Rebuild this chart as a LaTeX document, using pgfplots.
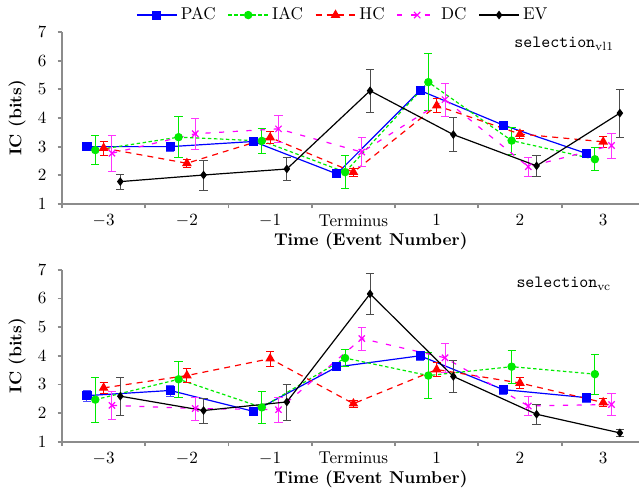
\documentclass[border=0pt]{standalone}
\usepackage{pgfplots}
\pgfplotsset{compat=1.18}
\definecolor{cpac}{RGB}{0,0,255}
\definecolor{ciac}{RGB}{0,235,0}
\definecolor{chc}{RGB}{255,0,0}
\definecolor{cdc}{RGB}{255,0,255}
\definecolor{axgray}{RGB}{140,140,140}
\pgfplotsset{
  myaxis/.style={
    scale only axis, width=337.5pt, height=100.6pt,
    xmin=-3.5, xmax=3.43, ymin=1, ymax=7,
    axis x line=bottom, axis y line=left,
    axis line style={-, axgray, line width=1.1pt},
    every tick/.style={axgray, line width=1.1pt},
    tick align=outside,
    xtick={-3,-2,-1,0,1,2,3},
    xticklabels={$-3$,$-2$,$-1$,Terminus,$1$,$2$,$3$},
    minor xtick={-3.5,-2.5,-1.5,-0.5,0.5,1.5,2.5},
    major x tick style={draw=none},
    major tick length=2.6pt, minor tick length=2.6pt,
    ytick={1,2,3,4,5,6,7},
    yticklabel style={xshift=-3pt},
    xlabel={\textbf{Time (Event Number)}},
    ylabel={\textbf{IC (bits)}},
    xlabel style={at={(axis description cs:0.535,0)}, anchor=north, yshift=-13.5pt},
    ylabel style={at={(axis description cs:0,0.5)}, anchor=center, yshift=26.3pt},
    clip=false,
  },
  pac/.style={cpac, line width=0.7pt, mark=square*, mark size=2.3pt, mark options={solid},
    error bars/.cd, y dir=both, y explicit, error bar style={cpac!70, line width=0.6pt}, error mark options={rotate=90, mark size=2.4pt, cpac!70}},
  iac/.style={ciac, line width=0.7pt, dash pattern=on 2pt off 1.5pt, mark=*, mark size=2.1pt, mark options={solid},
    error bars/.cd, y dir=both, y explicit, error bar style={ciac, line width=0.6pt, solid}, error mark options={rotate=90, mark size=2.4pt, ciac}},
  hc/.style={chc, line width=0.7pt, dash pattern=on 3.5pt off 3pt, mark=triangle*, mark size=2.6pt, mark options={solid},
    error bars/.cd, y dir=both, y explicit, error bar style={chc, line width=0.6pt, solid}, error mark options={rotate=90, mark size=2.4pt, chc}},
  dc/.style={cdc, line width=0.7pt, dash pattern=on 3pt off 5pt, mark=x, mark size=2.6pt, mark options={solid},
    error bars/.cd, y dir=both, y explicit, error bar style={cdc!80, line width=0.6pt, solid}, error mark options={rotate=90, mark size=2.4pt, cdc!80}},
  ev/.style={black, line width=0.7pt, mark=diamond*, mark size=2pt, mark options={solid},
    error bars/.cd, y dir=both, y explicit, error bar style={black!70, line width=0.6pt}, error mark options={rotate=90, mark size=2.4pt, black!70}},
}
\begin{document}
\begin{tikzpicture}
\begin{axis}[myaxis, at={(0,0)}, anchor=south west,
  legend columns=-1,
  legend style={draw=none, fill=none, at={(axis description cs:0.488,1)}, anchor=center, yshift=9.9pt,
    /tikz/every even column/.append style={column sep=5pt}, inner sep=1pt},
  legend image code/.code={\draw[mark repeat=2,mark phase=2] plot coordinates {(0cm,0cm) (0.41cm,0cm) (0.82cm,0cm)};},
]
\addplot[pac] table[x=x,y=y,y error=e,row sep=\\] {x y e\\ -3.2 3.00 0.12\\ -2.2 3.00 0.15\\ -1.2 3.18 0.15\\ -0.2 2.05 0.10\\ 0.8 4.96 0.15\\ 1.8 3.75 0.12\\ 2.8 2.76 0.10\\};
\addlegendentry{PAC}
\addplot[iac] table[x=x,y=y,y error=e,row sep=\\] {x y e\\ -3.1 2.88 0.50\\ -2.1 3.33 0.72\\ -1.1 3.20 0.45\\ -0.1 2.11 0.57\\ 0.9 5.25 1.00\\ 1.9 3.21 0.48\\ 2.9 2.56 0.40\\};
\addlegendentry{IAC}
\addplot[hc] table[x=x,y=y,y error=e,row sep=\\] {x y e\\ -3 2.95 0.24\\ -2 2.42 0.13\\ -1 3.32 0.22\\ 0 2.11 0.15\\ 1 4.43 0.24\\ 2 3.44 0.14\\ 3 3.17 0.20\\};
\addlegendentry{HC}
\addplot[dc] table[x=x,y=y,y error=e,row sep=\\] {x y e\\ -2.9 2.77 0.62\\ -1.9 3.45 0.55\\ -0.9 3.62 0.48\\ 0.1 2.81 0.50\\ 1.1 4.64 0.57\\ 2.1 2.30 0.33\\ 3.1 3.04 0.44\\};
\addlegendentry{DC}
\addplot[ev] table[x=x,y=y,y error=e,row sep=\\] {x y e\\ -2.8 1.78 0.27\\ -1.8 2.01 0.52\\ -0.8 2.22 0.40\\ 0.2 4.95 0.75\\ 1.2 3.42 0.60\\ 2.2 2.33 0.35\\ 3.2 4.17 0.83\\};
\addlegendentry{EV}
\node[anchor=east] at (axis description cs:0.967,0.93) {\texttt{selection}$_{\mathrm{vl1}}$};
\end{axis}
\begin{axis}[myaxis, at={(0,-139.1pt)}, anchor=south west]
\addplot[pac] table[x=x,y=y,y error=e,row sep=\\] {x y e\\ -3.2 2.61 0.20\\ -2.2 2.79 0.19\\ -1.2 2.06 0.15\\ -0.2 3.61 0.10\\ 0.8 4.00 0.15\\ 1.8 2.82 0.15\\ 2.8 2.54 0.15\\};
\addplot[iac] table[x=x,y=y,y error=e,row sep=\\] {x y e\\ -3.1 2.47 0.79\\ -2.1 3.18 0.64\\ -1.1 2.20 0.55\\ -0.1 3.92 0.30\\ 0.9 3.31 0.80\\ 1.9 3.62 0.57\\ 2.9 3.36 0.69\\};
\addplot[hc] table[x=x,y=y,y error=e,row sep=\\] {x y e\\ -3 2.88 0.18\\ -2 3.31 0.25\\ -1 3.90 0.26\\ 0 2.33 0.12\\ 1 3.52 0.25\\ 2 3.05 0.20\\ 3 2.37 0.15\\};
\addplot[dc] table[x=x,y=y,y error=e,row sep=\\] {x y e\\ -2.9 2.27 0.48\\ -1.9 2.16 0.40\\ -0.9 2.12 0.44\\ 0.1 4.60 0.40\\ 1.1 3.93 0.52\\ 2.1 2.25 0.33\\ 3.1 2.30 0.38\\};
\addplot[ev] table[x=x,y=y,y error=e,row sep=\\] {x y e\\ -2.8 2.59 0.67\\ -1.8 2.09 0.43\\ -0.8 2.39 0.63\\ 0.2 6.16 0.70\\ 1.2 3.28 0.57\\ 2.2 1.96 0.35\\ 3.2 1.31 0.12\\};
\node[anchor=east] at (axis description cs:0.962,0.92) {\texttt{selection}$_{\mathrm{vc}}$};
\end{axis}
\pgfresetboundingbox
\path[use as bounding box] (-36.27pt,-170.8pt) rectangle (337.5pt,119.3pt);
\end{tikzpicture}
\end{document}
